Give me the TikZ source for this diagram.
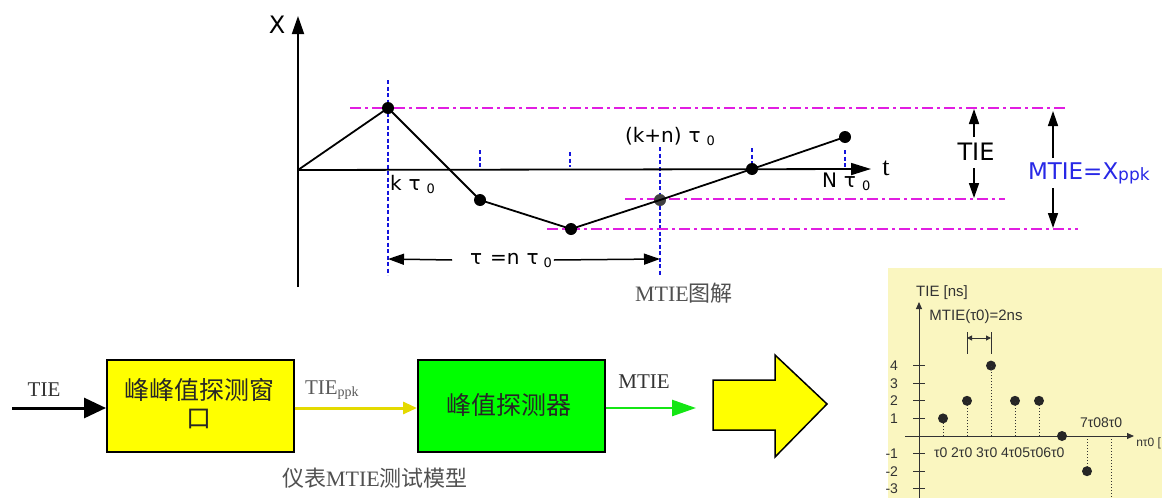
\documentclass[tikz,border=0pt]{standalone}
\usepackage{fontspec}
\newfontfamily\dv{DejaVu Sans}
\newfontfamily\ls{Liberation Sans}
\newfontfamily\lser{Liberation Serif}
\newfontfamily\cjk{Noto Sans CJK SC}
\usetikzlibrary{arrows.meta}
\definecolor{mag}{RGB}{225,30,225}
\definecolor{dblue}{RGB}{20,20,220}
\definecolor{mblue}{RGB}{40,40,230}
\definecolor{panelbg}{RGB}{250,246,192}
\definecolor{pgray}{RGB}{50,50,50}
\definecolor{ylw}{RGB}{255,255,0}
\definecolor{grn}{RGB}{0,255,0}
\definecolor{ylwline}{RGB}{228,218,0}
\definecolor{grnline}{RGB}{20,230,20}
\definecolor{capgray}{RGB}{80,80,80}
\newcommand{\myfs}[1]{\fontsize{#1}{#1}\selectfont}
\begin{document}
\begin{tikzpicture}[x=1pt,y=-1pt,
  txt/.style={inner sep=0pt, outer sep=0pt},
  magline/.style={mag, line width=1.7pt, dash pattern=on 11pt off 4pt on 3pt off 4pt},
  bluedash/.style={dblue, line width=1.3pt, dash pattern=on 4pt off 2.5pt},
  datapt/.style={circle, fill=black, inner sep=0pt, minimum size=12pt},
  axisline/.style={line width=1.8pt},
  bigtip/.style={-{Triangle[length=16pt,width=11pt]}},
  blockbox/.style={draw=black, line width=1.5pt, minimum width=187pt, minimum height=92pt, inner sep=0pt},
  pdot/.style={circle, fill=black!85, inner sep=0pt, minimum size=10pt},
  pline/.style={pgray, line width=1pt},
  pdotted/.style={pgray, line width=1pt, dotted}
]
\useasboundingbox (0,0) rectangle (1162,498);

% ---------------- upper MTIE diagram ----------------
\coordinate (O) at (298,170);
\coordinate (ytop) at (298,16);
\coordinate (ybot) at (298,287);
\coordinate (tend) at (871,169);

% blue dashed verticals
\coordinate (k1) at (388,80);   \coordinate (k2) at (388,275);
\coordinate (n1) at (660,147);  \coordinate (n2) at (660,275);
\draw[bluedash] (k1) -- (k2);
\draw[bluedash] (n1) -- (n2);
\coordinate (t1a) at (480,150); \coordinate (t1b) at (480,167);
\coordinate (t2a) at (570,152); \coordinate (t2b) at (570,167);
\coordinate (t3a) at (752,148); \coordinate (t3b) at (752,169);
\coordinate (t4a) at (845,150); \coordinate (t4b) at (845,169);
\draw[bluedash] (t1a) -- (t1b);
\draw[bluedash] (t2a) -- (t2b);
\draw[bluedash] (t3a) -- (t3b);
\draw[bluedash] (t4a) -- (t4b);

% magenta dash-dot levels
\coordinate (m1a) at (350,108);  \coordinate (m1b) at (1065,108);
\coordinate (m2a) at (625,199);  \coordinate (m2b) at (1005,199);
\coordinate (m3a) at (547,229);  \coordinate (m3b) at (1078,229);
\draw[magline] (m1a) -- (m1b);
\draw[magline] (m2a) -- (m2b);
\draw[magline] (m3a) -- (m3b);

% axes
\draw[axisline, -{Triangle[length=18pt,width=12pt]}] (ybot) -- (ytop);
\draw[axisline, -{Triangle[length=20pt,width=12pt]}] (O) -- (tend);
\node[txt] (Xlab) at (277,25) {\dv\myfs{24}X};
\node[txt] (tlab) at (886,168) {\lser\myfs{26}t};

% data points
\node[datapt] (p1) at (388,108) {};
\node[datapt] (p2) at (480,200) {};
\node[datapt] (p3) at (571,229) {};
\node[datapt, fill=black!75] (p4) at (660,200) {};
\node[datapt] (p5) at (752,169) {};
\node[datapt] (p6) at (845,137) {};
\draw[line width=1.8pt] (O) -- (p1.center) -- (p2.center) -- (p3.center) -- (p4.center) -- (p5.center) -- (p6.center);

% labels
\node[txt, anchor=west] (ktau) at (390,184) {\dv\myfs{20}k\hspace{7pt}τ\hspace{6pt}\raisebox{-3pt}{\myfs{13}0}};
\node[txt, anchor=west] (kntau) at (625,136) {\dv\myfs{20}(k+n)\hspace{7pt}τ\hspace{6pt}\raisebox{-3pt}{\myfs{13}0}};
\node[txt, anchor=west] (Ntau) at (822,182) {\dv\myfs{20}N\hspace{7pt}τ\hspace{6pt}\raisebox{-3pt}{\myfs{13}0}};
\node[txt] (taueq) at (511,260) {\dv\myfs{20}τ\hspace{8pt}=n\hspace{7pt}τ\hspace{5pt}\raisebox{-3pt}{\myfs{13}0}};
\coordinate (tauL) at (388,259);
\coordinate (tauR) at (660,259);
\draw[line width=1.5pt, bigtip] (taueq.west) ++(-18,0) -- (tauL);
\draw[line width=1.5pt, bigtip] (taueq.east) ++(2,0) -- (tauR);

% TIE span
\node[txt] (tie) at (976,152) {\dv\myfs{24}TIE};
\coordinate (tieT) at (974,109);
\coordinate (tieB) at (974,198);
\draw[line width=1.5pt, -{Triangle[length=15pt,width=10pt]}] (974,137) -- (tieT);
\draw[line width=1.5pt, -{Triangle[length=15pt,width=10pt]}] (974,168) -- (tieB);

% MTIE span
\node[txt, anchor=west] (mtie) at (1028,173) {\dv\myfs{23}\color{mblue}MTIE=X\raisebox{-1pt}{\myfs{17}ppk}};
\coordinate (mtT) at (1053,111);
\coordinate (mtB) at (1053,228);
\draw[line width=1.5pt, -{Triangle[length=15pt,width=10pt]}] (1053,158) -- (mtT);
\draw[line width=1.5pt, -{Triangle[length=15pt,width=10pt]}] (1053,188) -- (mtB);

\node[txt] (cap1) at (684,293) {\color{capgray}\lser\myfs{22}MTIE{\cjk\myfs{22}图解}};

% ---------------- block diagram ----------------
\node[blockbox, fill=ylw, anchor=north west] (win) at (106,359) {};
\node[txt] (win1) at (199,390) {\cjk\myfs{25}\color{black!85}峰峰值探测窗};
\node[txt] (win2) at (199,419) {\cjk\myfs{25}\color{black!85}口};
\node[blockbox, fill=grn, anchor=north west] (pk) at (417,359) {};
\node[txt] (pktext) at (509,405) {\cjk\myfs{25}\color{black!85}峰值探测器};

\coordinate (inS) at (12,408);
\draw[line width=3pt, -{Triangle[length=22pt,width=20pt]}] (inS) -- (win.west |- inS);
\node[txt] (tieIn) at (44,390) {\lser\myfs{21}\color{black!80}TIE};
\draw[ylwline, line width=3pt, -{Triangle[length=14pt,width=12pt]}] (win.east |- inS) -- (pk.west |- inS);
\node[txt, anchor=west] (tieppk) at (305,390) {\lser\myfs{21}\color{black!65}TIE\raisebox{-2pt}{\myfs{14}ppk}};
\coordinate (outE) at (696,408);
\draw[grnline, line width=2.5pt, -{Triangle[length=24pt,width=16pt]}] (pk.east |- outE) -- (outE);
\node[txt] (mtieOut) at (644,382) {\lser\myfs{21}\color{black!80}MTIE};

\draw[fill=ylw, line width=1.5pt] (713,380) -- (775,380) -- (775,355) -- (827,404) -- (775,457) -- (775,430) -- (713,430) -- cycle;

\node[txt] (cap2) at (375,478) {\color{capgray}{\cjk\myfs{22}仪表}\lser\myfs{22}MTIE{\cjk\myfs{22}测试模型}};

% ---------------- TIE sample panel ----------------
\fill[panelbg] (888,268) rectangle (1162,498);
\coordinate (pyB) at (919,498);
\coordinate (pyT) at (919,302);
\coordinate (pxL) at (905,436);
\coordinate (pxR) at (1134,436);
\draw[pline, -{Triangle[length=7pt,width=6pt]}] (pyB) -- (pyT);
\draw[pline, -{Triangle[length=7pt,width=6pt]}] (pxL) -- (pxR);
\foreach \v/\l in {4/4,3/3,2/2,1/1,-1/-1,-2/-2,-3/-3}{
  \draw[pline] (913,{436-17.6*\v}) -- (925,{436-17.6*\v});
  \node[txt, anchor=east] at (898,{436-17.6*\v}) {\ls\myfs{14}\color{pgray}\l};
}
\foreach \x/\v/\n in {943/1/a,967/2/b,991/4/c,1015/2/d,1039/2/e,1062/0/f,1087/-2/g}{
  \node[pdot] (s\n) at (\x,{436-17.6*\v}) {};
  \draw[pdotted] (\x,436) -- (s\n.center);
}
\coordinate (s8a) at (1111,436);
\coordinate (s8b) at (1111,498);
\draw[pdotted] (s8a) -- (s8b);

\coordinate (mk1a) at (967,332); \coordinate (mk1b) at (967,354);
\coordinate (mk2a) at (991,332); \coordinate (mk2b) at (991,354);
\draw[pline] (mk1a) -- (mk1b);
\draw[pline] (mk2a) -- (mk2b);
\draw[pline, {Triangle[length=5pt,width=5pt]}-{Triangle[length=5pt,width=5pt]}] (967,338) -- (991,338);

\node[txt] (ptitle) at (942,293) {\ls\myfs{15}\color{pgray}TIE [ns]};
\node[txt] (pmtie) at (976,317) {\ls\myfs{15}\color{pgray}MTIE(τ0)=2ns};
\node[txt, anchor=west] (pxlab) at (934,453) {\ls\myfs{14}\color{pgray}τ0 2τ0 3τ0 4τ05τ06τ0};
\node[txt, anchor=west] (p78) at (1080,423) {\ls\myfs{14}\color{pgray}7τ08τ0};
\node[txt, anchor=east] (pnlab) at (1161,443) {\ls\myfs{12}\color{pgray}nτ0 [};
\end{tikzpicture}
\end{document}
